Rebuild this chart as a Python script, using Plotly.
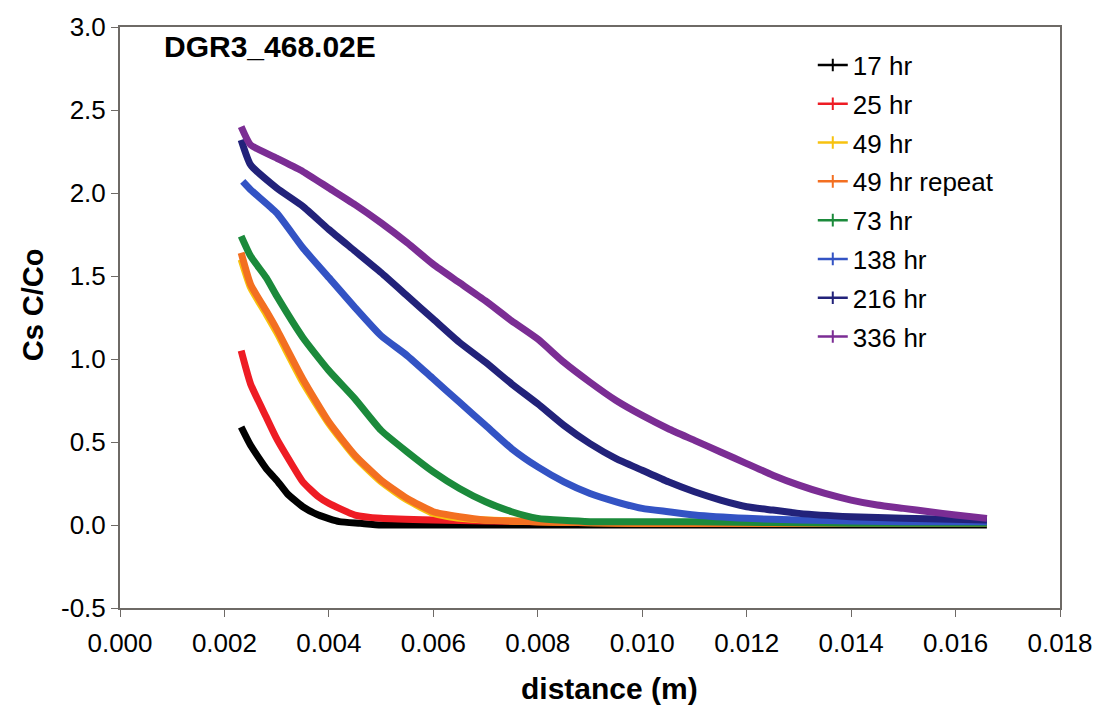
import plotly.graph_objects as go

# ---- data ----
series_names = ["17 hr", "25 hr", "49 hr", "49 hr repeat", "73 hr", "138 hr", "216 hr", "336 hr"]
series_colors = ["#000000", "#ee1c24", "#f7c20f", "#f36f21", "#1b8a3b", "#3353c4", "#22227a", "#7b2d94"]

x_17 = [0.00232, 0.0025, 0.0028, 0.0030, 0.0032, 0.0035, 0.0038, 0.0042, 0.0046, 0.0050, 0.0060, 0.0080, 0.0100, 0.0120, 0.0140, 0.0166]
y_17 = [0.59, 0.48, 0.34, 0.27, 0.19, 0.11, 0.06, 0.02, 0.01, 0.00, 0.00, 0.00, 0.00, 0.00, 0.00, 0.00]

x_25 = [0.00232, 0.0025, 0.0028, 0.0030, 0.0033, 0.0035, 0.0038, 0.0040, 0.0045, 0.0050, 0.0060, 0.0080, 0.0100, 0.0120, 0.0140, 0.0166]
y_25 = [1.05, 0.85, 0.65, 0.52, 0.36, 0.26, 0.17, 0.13, 0.06, 0.04, 0.03, 0.02, 0.01, 0.01, 0.01, 0.01]

x_49 = [0.00232, 0.0025, 0.0028, 0.0030, 0.0035, 0.0040, 0.0045, 0.0050, 0.0055, 0.0060, 0.0065, 0.0070, 0.0080, 0.0100, 0.0130, 0.0166]
y_49 = [1.60, 1.43, 1.27, 1.16, 0.86, 0.61, 0.41, 0.26, 0.15, 0.07, 0.04, 0.03, 0.02, 0.01, 0.01, 0.01]

x_49r = [0.00232, 0.0025, 0.0028, 0.0030, 0.0035, 0.0040, 0.0045, 0.0050, 0.0055, 0.0060, 0.0065, 0.0070, 0.0080, 0.0100, 0.0130, 0.0166]
y_49r = [1.64, 1.45, 1.29, 1.18, 0.88, 0.62, 0.42, 0.27, 0.16, 0.08, 0.05, 0.03, 0.02, 0.01, 0.01, 0.01]

x_73 = [0.00232, 0.0025, 0.0028, 0.0030, 0.0035, 0.0040, 0.0045, 0.0050, 0.0055, 0.0060, 0.0065, 0.0070, 0.0075, 0.0080, 0.0090, 0.0110, 0.0140, 0.0166]
y_73 = [1.74, 1.62, 1.49, 1.38, 1.13, 0.93, 0.76, 0.57, 0.44, 0.32, 0.22, 0.14, 0.08, 0.04, 0.02, 0.02, 0.01, 0.01]

x_138 = [0.00235, 0.0025, 0.0030, 0.0035, 0.0040, 0.0045, 0.0050, 0.0055, 0.0060, 0.0065, 0.0070, 0.0075, 0.0080, 0.0085, 0.0090, 0.0095, 0.0100, 0.0105, 0.0110, 0.0120, 0.0130, 0.0150, 0.0166]
y_138 = [2.07, 2.02, 1.88, 1.67, 1.49, 1.31, 1.14, 1.02, 0.88, 0.74, 0.60, 0.46, 0.35, 0.26, 0.19, 0.14, 0.10, 0.08, 0.06, 0.04, 0.03, 0.02, 0.02]

x_216 = [0.00232, 0.0025, 0.0030, 0.0035, 0.0040, 0.0045, 0.0050, 0.0055, 0.0060, 0.0065, 0.0070, 0.0075, 0.0080, 0.0085, 0.0090, 0.0095, 0.0100, 0.0105, 0.0110, 0.0115, 0.0120, 0.0125, 0.0130, 0.0140, 0.0150, 0.0166]
y_216 = [2.32, 2.17, 2.03, 1.92, 1.78, 1.65, 1.52, 1.38, 1.24, 1.10, 0.98, 0.85, 0.73, 0.60, 0.49, 0.40, 0.33, 0.26, 0.20, 0.15, 0.11, 0.09, 0.07, 0.05, 0.04, 0.03]

x_336 = [0.00232, 0.0025, 0.0030, 0.0035, 0.0040, 0.0045, 0.0050, 0.0055, 0.0060, 0.0065, 0.0070, 0.0075, 0.0080, 0.0085, 0.0090, 0.0095, 0.0100, 0.0105, 0.0110, 0.0115, 0.0120, 0.0125, 0.0130, 0.0135, 0.0140, 0.0145, 0.0150, 0.0155, 0.0160, 0.0166]
y_336 = [2.40, 2.29, 2.21, 2.13, 2.03, 1.93, 1.82, 1.70, 1.57, 1.46, 1.35, 1.23, 1.12, 0.98, 0.86, 0.75, 0.66, 0.58, 0.51, 0.44, 0.37, 0.30, 0.24, 0.19, 0.15, 0.12, 0.10, 0.08, 0.06, 0.04]

series_x = [x_17, x_25, x_49, x_49r, x_73, x_138, x_216, x_336]
series_y = [y_17, y_25, y_49, y_49r, y_73, y_138, y_216, y_336]

x_ticks = [0.000, 0.002, 0.004, 0.006, 0.008, 0.010, 0.012, 0.014, 0.016, 0.018]
x_tick_labels = ["0.000", "0.002", "0.004", "0.006", "0.008", "0.010", "0.012", "0.014", "0.016", "0.018"]
y_ticks = [-0.5, 0.0, 0.5, 1.0, 1.5, 2.0, 2.5, 3.0]
y_tick_labels = ["-0.5", "0.0", "0.5", "1.0", "1.5", "2.0", "2.5", "3.0"]

FONT = "Liberation Sans, Arial, sans-serif"
AXIS_COLOR = "#6e6a66"

fig = go.Figure()
for name, color, xs, ys in zip(series_names, series_colors, series_x, series_y):
    fig.add_trace(go.Scatter(
        x=xs, y=ys, mode="lines", name=name, showlegend=False,
        line=dict(color=color, width=7, shape="spline", smoothing=0.5),
    ))
# legend entries (thin line with small tick marker, like the original)
for name, color in zip(series_names, series_colors):
    fig.add_trace(go.Scatter(
        x=[None], y=[None], mode="lines+markers", name=name, legendgroup=name,
        line=dict(color=color, width=2.5),
        marker=dict(symbol="line-ns-open", size=9, color=color, line=dict(color=color, width=2)),
    ))

fig.add_annotation(
    text="<b>DGR3_468.02E</b>", xref="paper", yref="paper",
    x=0.045, y=0.966, xanchor="left", yanchor="middle", showarrow=False,
    font=dict(family=FONT, size=30, color="#000000"),
)
fig.add_annotation(
    text="<b>distance (m)</b>", xref="paper", yref="paper",
    x=0.521, y=-0.139, xanchor="center", yanchor="middle", showarrow=False,
    font=dict(family=FONT, size=30, color="#000000"),
)
fig.add_annotation(
    text="<b>Cs C/Co</b>", xref="paper", yref="paper", textangle=-90,
    x=-0.093, y=0.522, xanchor="center", yanchor="middle", showarrow=False,
    font=dict(family=FONT, size=29, color="#000000"),
)

fig.update_layout(
    width=1105, height=717,
    margin=dict(l=120, r=41, t=18, b=109),
    paper_bgcolor="white", plot_bgcolor="white",
    font=dict(family=FONT, size=26, color="#000000"),
    showlegend=True,
    legend=dict(
        x=0.737, y=0.975, xanchor="left", yanchor="top",
        bgcolor="rgba(0,0,0,0)", font=dict(family=FONT, size=26, color="#000000"),
        tracegroupgap=2, itemwidth=30,
    ),
    xaxis=dict(
        range=[0, 0.018], tickvals=x_ticks, ticktext=x_tick_labels,
        showgrid=False, zeroline=False,
        showline=True, linecolor=AXIS_COLOR, linewidth=2, mirror=True,
        ticks="outside", ticklen=7, tickcolor=AXIS_COLOR, tickwidth=1,
        tickfont=dict(family=FONT, size=26), ticklabelstandoff=4,
    ),
    yaxis=dict(
        range=[-0.5, 3.0], tickvals=y_ticks, ticktext=y_tick_labels,
        showgrid=False, zeroline=False,
        showline=True, linecolor=AXIS_COLOR, linewidth=2, mirror=True,
        ticks="outside", ticklen=7, tickcolor=AXIS_COLOR, tickwidth=1,
        tickfont=dict(family=FONT, size=26),
    ),
)

fig.write_html("out.html")
